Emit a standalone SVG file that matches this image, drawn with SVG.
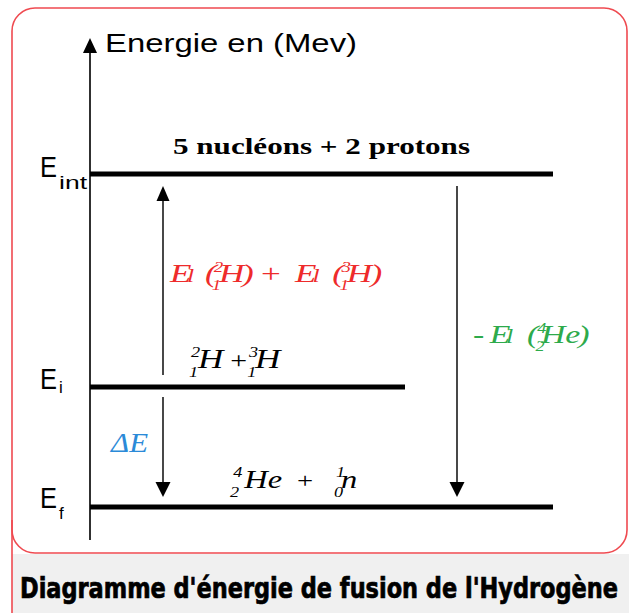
<svg xmlns="http://www.w3.org/2000/svg" width="629" height="613" viewBox="0 0 629 613">
  <defs>
    <style>
      .frame { fill: none; stroke: #ef4a50; stroke-width: 1.6; }
      .axis { stroke: #1a1a1a; stroke-width: 1.8; fill: none; }
      .arr { stroke: #1a1a1a; stroke-width: 1.6; fill: none; }
      .level { stroke: #000; stroke-width: 5; }
      .head { fill: #000; }
      .sans { font-family: "Liberation Sans", Arial, sans-serif; fill: #000; }
      .serif { font-family: "Liberation Serif", "Times New Roman", serif; }
      .it { font-style: italic; }
      .up { font-style: normal; }
      .scr { font-size: 14px; }
      .title { font-family: "DejaVu Sans Condensed", "DejaVu Sans", sans-serif; font-weight: bold; font-stretch: condensed; font-size: 29px; fill: #000; stroke: #000; stroke-width: 0.7; }
    </style>
  </defs>

  <rect x="0" y="0" width="629" height="613" fill="#ffffff"/>
  <rect x="12" y="554" width="617" height="59" fill="#f0f0f0"/>

  <g id="frame">
    <rect class="frame" x="12" y="8" width="615" height="545" rx="23" ry="23" fill="#ffffff"/>
    <line class="frame" x1="12" y1="520" x2="12" y2="613"/>
  </g>

  <g id="axis">
    <line class="axis" x1="90" y1="50" x2="90" y2="540"/>
    <polygon class="head" points="90,38 83,53 97,53"/>
    <text class="sans" x="105" y="52" font-size="26" textLength="252" lengthAdjust="spacingAndGlyphs">Energie en (Mev)</text>
  </g>

  <g id="level-int">
    <line class="level" x1="90" y1="174" x2="553" y2="174"/>
    <text class="sans" x="40" y="177" font-size="29" textLength="17" lengthAdjust="spacingAndGlyphs">E</text>
    <text class="sans" x="59" y="189" font-size="18" textLength="28" lengthAdjust="spacingAndGlyphs">int</text>
    <text class="serif" x="173" y="154" font-size="24" font-weight="bold" fill="#000" textLength="297" lengthAdjust="spacingAndGlyphs">5 nucléons + 2 protons</text>
  </g>

  <g id="level-i">
    <line class="level" x1="90" y1="387" x2="405" y2="387"/>
    <text class="sans" x="40" y="389" font-size="29" textLength="17" lengthAdjust="spacingAndGlyphs">E</text>
    <text class="sans" x="59" y="393" font-size="17">i</text>
    <text class="serif it" transform="matrix(1.3,0,0,1,188,368)" font-size="27" fill="#000"><tspan class="scr" x="2.3" y="-11">2</tspan><tspan class="scr" x="0.8" y="9">1</tspan><tspan x="7.7" y="0">H</tspan><tspan class="up" x="32.5" y="0" font-size="23">+</tspan><tspan class="scr" x="47" y="-11">3</tspan><tspan class="scr" x="45.5" y="9">1</tspan><tspan x="51.5" y="0">H</tspan></text>
  </g>

  <g id="level-f">
    <line class="level" x1="90" y1="507" x2="553" y2="507"/>
    <text class="sans" x="40" y="508" font-size="29" textLength="17" lengthAdjust="spacingAndGlyphs">E</text>
    <text class="sans" x="59" y="519" font-size="17">f</text>
    <text class="serif it" transform="matrix(1.3,0,0,1,228,488)" font-size="25" fill="#000"><tspan class="scr" x="4" y="-11">4</tspan><tspan class="scr" x="1.5" y="9">2</tspan><tspan x="12.5" y="0">He</tspan><tspan class="up" x="53" y="0" font-size="22">+</tspan><tspan class="scr" x="83" y="-11">1</tspan><tspan class="scr" x="81.5" y="9">0</tspan><tspan x="87" y="0">n</tspan></text>
  </g>

  <g id="connectors">
    <line class="arr" x1="163" y1="200" x2="163" y2="375"/>
    <polygon class="head" points="163,186 156.5,201 169.5,201"/>
    <line class="arr" x1="163" y1="397" x2="163" y2="484"/>
    <polygon class="head" points="163,497 155.5,482 170.5,482"/>
    <line class="arr" x1="457" y1="186" x2="457" y2="484"/>
    <polygon class="head" points="457,497 449.5,482 464.5,482"/>
  </g>

  <g id="label-binding-reactants">
    <text class="serif it" transform="matrix(1.35,0,0,1,170,282)" font-size="26" fill="#ee2b2b"><tspan x="0" y="0">E</tspan><tspan x="12.6" y="0" font-size="19">l</tspan><tspan x="25.9" y="0">(</tspan><tspan class="scr" x="32.5" y="-10">2</tspan><tspan class="scr" x="31" y="8">1</tspan><tspan x="36.3" y="0">H</tspan><tspan x="53.3" y="0">)</tspan><tspan class="up" x="67.5" y="0">+</tspan><tspan x="92.6" y="0">E</tspan><tspan x="105.6" y="0" font-size="19">l</tspan><tspan x="120.2" y="0">(</tspan><tspan class="scr" x="127" y="-10">3</tspan><tspan class="scr" x="125.5" y="8">1</tspan><tspan x="131" y="0">H</tspan><tspan x="148.5" y="0">)</tspan></text>
  </g>

  <g id="label-binding-helium">
    <text class="serif it" transform="matrix(1.3,0,0,1,473,343)" font-size="26" fill="#2daa4b"><tspan class="up" x="0" y="0">-</tspan><tspan x="12.8" y="0">E</tspan><tspan x="25.4" y="0" font-size="20">l</tspan><tspan x="41.5" y="0">(</tspan><tspan class="scr" x="49.5" y="-10">4</tspan><tspan class="scr" x="48" y="8">2</tspan><tspan x="52.3" y="0">He</tspan><tspan x="81" y="0">)</tspan></text>
  </g>

  <g id="label-delta">
    <text class="serif it" x="111" y="452" font-size="28" fill="#2b8ad8" textLength="37" lengthAdjust="spacingAndGlyphs">ΔE</text>
  </g>

  <g id="title">
    <text class="title" x="20" y="598" textLength="598" lengthAdjust="spacingAndGlyphs">Diagramme d'énergie de fusion de l'Hydrogène</text>
  </g>
</svg>
